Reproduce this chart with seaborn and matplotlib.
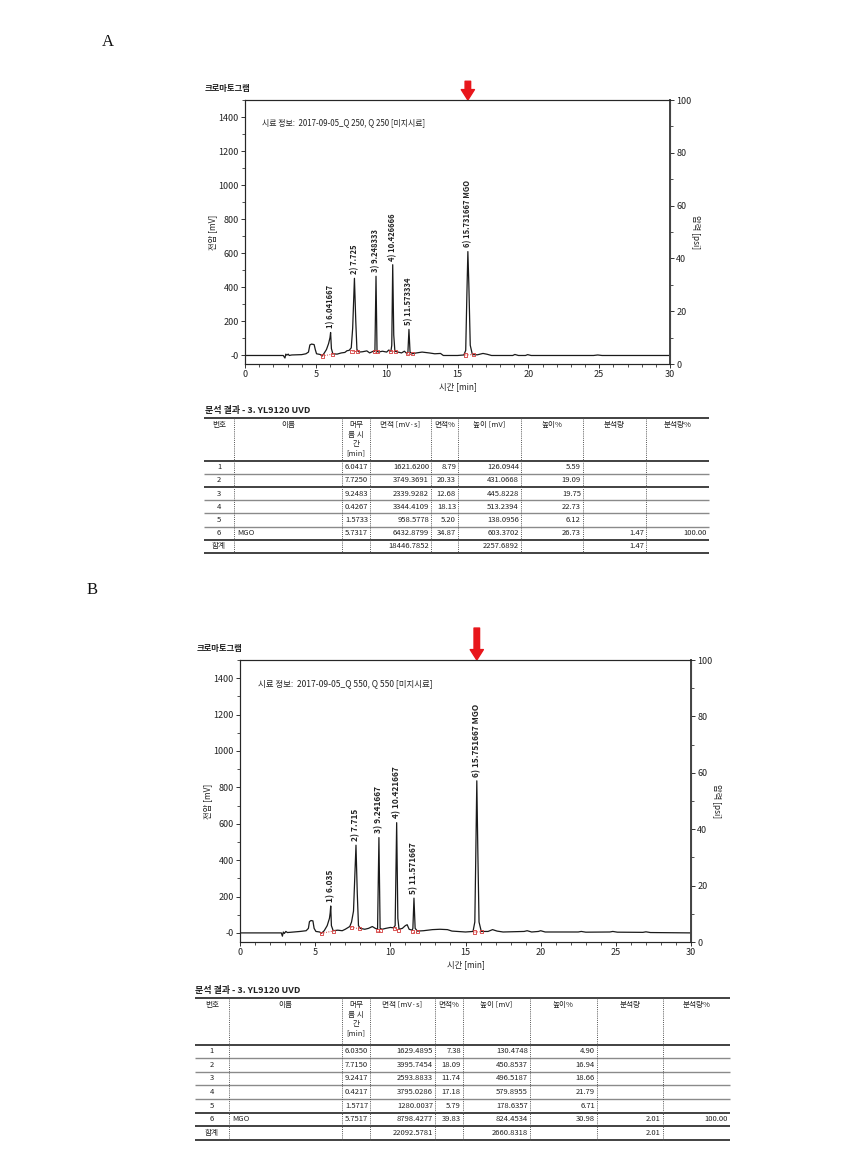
import matplotlib
matplotlib.use("Agg")
import matplotlib.pyplot as plt
from matplotlib.ticker import MultipleLocator, FixedLocator
import numpy as np
import pandas as pd
import seaborn as sns

# ---------------- data ----------------
TIME_TICKS = [0, 5, 10, 15, 20, 25, 30]
MV_TICKS = [0, 200, 400, 600, 800, 1000, 1200, 1400]
MV_TICK_LABELS = ["-0", "200", "400", "600", "800", "1000", "1200", "1400"]
PSI_TICKS = [0, 20, 40, 60, 80, 100]

# chromatogram A (time [min], voltage [mV])
A_trace = [(0, 0), (2.7, 0), (2.82, -15), (2.88, 8), (2.95, 2), (3.05, 8), (3.12, 0), (3.3, 3),
           (4.0, 5), (4.3, 10), (4.48, 20), (4.58, 62), (4.7, 67), (4.88, 64), (4.96, 35), (5.05, 10),
           (5.3, 6), (5.45, -3), (5.6, 15), (5.75, 35), (5.9, 70), (6.0, 105), (6.042, 135), (6.1, 40),
           (6.2, 10), (6.5, 8), (6.8, 15), (7.05, 18), (7.2, 28), (7.35, 30), (7.5, 45), (7.6, 160),
           (7.725, 453), (7.82, 200), (7.9, 35), (8.05, 20), (8.3, 22), (8.6, 27), (8.8, 15), (9.05, 25),
           (9.17, 25), (9.248, 465), (9.32, 25), (9.42, 20), (9.7, 25), (10.0, 20), (10.15, 32), (10.3, 25),
           (10.36, 60), (10.427, 533), (10.5, 120), (10.58, 25), (10.8, 20), (11.05, 15), (11.25, 25),
           (11.42, 12), (11.5, 20), (11.573, 153), (11.65, 20), (11.78, 10), (12.1, 15), (12.5, 20),
           (13.0, 15), (13.4, 10), (13.8, 12), (14.0, 0), (15.0, 0), (15.45, 3), (15.58, 30), (15.66, 350),
           (15.732, 610), (15.8, 420), (15.9, 60), (16.05, 5), (16.4, 4), (16.8, 12), (17.1, 7), (17.4, 0),
           (18.9, 0), (19.05, 6), (19.3, 0), (19.8, 0), (19.95, 5), (20.2, 0), (24.6, 0), (24.9, 3),
           (25.2, 0), (30, 0)]
A_peak_t = [6.041667, 7.725, 9.248333, 10.426666, 11.573334, 15.731667]
A_peak_h = [135, 453, 465, 533, 153, 610]
A_peak_labels = ["1) 6.041667", "2) 7.725", "3) 9.248333", "4) 10.426666", "5) 11.573334", "6) 15.731667 MGO"]
A_int_t = [5.45, 6.2, 7.55, 7.95, 9.15, 9.35, 10.3, 10.6, 11.45, 11.8, 15.55, 16.1]
A_int_v = [-3, 8, 25, 25, 22, 22, 25, 22, 10, 10, 3, 5]

# chromatogram B (time [min], voltage [mV])
B_trace = [(0, 0), (2.75, 0), (2.82, -18), (2.88, 5), (2.95, -3), (3.05, 8), (3.15, 2), (3.3, 3),
           (4.0, 8), (4.4, 12), (4.55, 25), (4.62, 62), (4.72, 68), (4.85, 66), (4.93, 25), (5.05, 8),
           (5.3, 5), (5.42, -2), (5.6, 12), (5.8, 40), (5.95, 80), (6.0, 110), (6.035, 148), (6.08, 40),
           (6.2, 12), (6.5, 15), (6.8, 12), (7.0, 20), (7.2, 30), (7.3, 35), (7.42, 60), (7.55, 120),
           (7.715, 482), (7.8, 220), (7.88, 40), (8.0, 25), (8.3, 20), (8.55, 25), (8.8, 35), (9.0, 25),
           (9.15, 20), (9.241, 524), (9.32, 25), (9.45, 20), (9.7, 25), (10.0, 30), (10.2, 28), (10.32, 40),
           (10.421, 606), (10.5, 80), (10.58, 20), (10.8, 25), (11.0, 40), (11.12, 45), (11.25, 20),
           (11.45, 15), (11.5, 25), (11.572, 191), (11.65, 25), (11.8, 10), (12.2, 12), (12.8, 18),
           (13.3, 20), (13.8, 18), (14.1, 10), (15.0, 5), (15.5, 8), (15.62, 60), (15.68, 400),
           (15.752, 836), (15.82, 450), (15.9, 60), (16.05, 8), (16.5, 8), (16.8, 18), (17.1, 10),
           (17.5, 5), (18.9, 8), (19.1, 12), (19.4, 5), (19.85, 8), (20.0, 12), (20.3, 5), (22.5, 5),
           (22.7, 8), (23.0, 4), (24.6, 5), (24.8, 8), (25.1, 4), (26.8, 3), (27.0, 6), (27.3, 2), (30, 0)]
B_peak_t = [6.035, 7.715, 9.241667, 10.421667, 11.571667, 15.751667]
B_peak_h = [148, 482, 524, 606, 191, 836]
B_peak_labels = ["1) 6.035", "2) 7.715", "3) 9.241667", "4) 10.421667", "5) 11.571667", "6) 15.751667 MGO"]
B_int_t = [5.4, 6.2, 7.4, 7.95, 9.12, 9.32, 10.3, 10.55, 11.48, 11.8, 15.6, 16.05]
B_int_v = [-2, 10, 32, 22, 12, 12, 25, 12, 6, 6, 5, 6]

# result tables
HEADERS = ["번호", "이름", "머무\n름 시\n간\n[min]", "면적 [mV·s]", "면적%", "높이 [mV]", "높이%", "분석량", "분석량%"]
A_no = ["1", "2", "3", "4", "5", "6"]
A_name = ["", "", "", "", "", "MGO"]
A_rt = ["6.0417", "7.7250", "9.2483", "0.4267", "1.5733", "5.7317"]
A_area = ["1621.6200", "3749.3691", "2339.9282", "3344.4109", "958.5778", "6432.8799"]
A_area_pct = ["8.79", "20.33", "12.68", "18.13", "5.20", "34.87"]
A_height = ["126.0944", "431.0668", "445.8228", "513.2394", "138.0956", "603.3702"]
A_height_pct = ["5.59", "19.09", "19.75", "22.73", "6.12", "26.73"]
A_amount = ["", "", "", "", "", "1.47"]
A_amount_pct = ["", "", "", "", "", "100.00"]
A_total = ["합계", "", "", "18446.7852", "", "2257.6892", "", "1.47", ""]

B_no = ["1", "2", "3", "4", "5", "6"]
B_name = ["", "", "", "", "", "MGO"]
B_rt = ["6.0350", "7.7150", "9.2417", "0.4217", "1.5717", "5.7517"]
B_area = ["1629.4895", "3995.7454", "2593.8833", "3795.0286", "1280.0037", "8798.4277"]
B_area_pct = ["7.38", "18.09", "11.74", "17.18", "5.79", "39.83"]
B_height = ["130.4748", "450.8537", "496.5187", "579.8955", "178.6357", "824.4534"]
B_height_pct = ["4.90", "16.94", "18.66", "21.79", "6.71", "30.98"]
B_amount = ["", "", "", "", "", "2.01"]
B_amount_pct = ["", "", "", "", "", "100.00"]
B_total = ["합계", "", "", "22092.5781", "", "2660.8318", "", "2.01", ""]

# ---------------- style ----------------
sns.set_style("ticks")
plt.rcParams["font.family"] = ["Noto Sans CJK KR", "DejaVu Sans"]
plt.rcParams["axes.unicode_minus"] = False

W, H = 844, 1176
fig = plt.figure(figsize=(W / 100, H / 100), dpi=100)

# overlay axes in pixel coordinates for tables / titles
ov = fig.add_axes([0, 0, 1, 1], zorder=5)
ov.set_xlim(0, W)
ov.set_ylim(H, 0)
ov.axis("off")
ov.patch.set_alpha(0)

TXT = "#222222"


def chrom(rect, trace, peak_t, peak_h, peak_labels, int_t, int_v, info, fs_peak, fs_info, arrow_len):
    ax = fig.add_axes(rect)
    df = pd.DataFrame(trace, columns=["time", "mV"])
    sns.lineplot(data=df, x="time", y="mV", ax=ax, color="#1a1a1a", lw=0.9,
                 estimator=None, sort=False)
    # integration baselines / markers
    for i in range(0, len(int_t), 2):
        ax.plot(int_t[i:i + 2], int_v[i:i + 2], ls=(0, (1, 1.5)), color="#d43a3a", lw=0.7)
    ax.scatter(int_t, int_v, marker="s", s=5, facecolors="none", edgecolors="#d43a3a",
               linewidths=0.6, zorder=4)
    for t, h, lab in zip(peak_t, peak_h, peak_labels):
        ax.annotate(lab, xy=(t, h), xytext=(0, 3), textcoords="offset points",
                    rotation=90, ha="center", va="bottom", fontsize=fs_peak,
                    fontweight="bold", color=TXT)
    ax.set_xlim(0, 30)
    ax.set_ylim(-50, 1500)
    ax.xaxis.set_major_locator(FixedLocator(TIME_TICKS))
    ax.xaxis.set_minor_locator(MultipleLocator(1))
    ax.yaxis.set_major_locator(FixedLocator(MV_TICKS))
    ax.set_yticklabels(MV_TICK_LABELS)
    ax.yaxis.set_minor_locator(MultipleLocator(100))
    ax.tick_params(which="major", direction="out", length=3, width=0.7, labelsize=6.5,
                   pad=1.5, colors="#333333", labelcolor=TXT)
    ax.tick_params(which="minor", direction="out", length=2, width=0.6, colors="#333333")
    ax.set_xlabel("시간 [min]", fontsize=6, color=TXT, labelpad=2)
    ax.set_ylabel("전압 [mV]", fontsize=6, color=TXT, labelpad=1)
    for s in ax.spines.values():
        s.set_color("#444444")
        s.set_linewidth(0.8)
        s.set_visible(True)
    ax.text(0.04, 0.915, info, transform=ax.transAxes, fontsize=fs_info, color=TXT, va="center")
    # right pressure axis
    ax2 = ax.twinx()
    ax2.set_ylim(0, 100)
    ax2.yaxis.set_major_locator(FixedLocator(PSI_TICKS))
    ax2.yaxis.set_minor_locator(MultipleLocator(10))
    ax2.tick_params(which="major", direction="out", length=3, width=0.7, labelsize=6.5,
                    pad=1.5, colors="#333333", labelcolor=TXT)
    ax2.tick_params(which="minor", direction="out", length=2, width=0.6, colors="#333333")
    ax2.set_ylabel("압력 [psi]", fontsize=6, rotation=270, color=TXT, labelpad=6)
    ax2.spines["right"].set_linewidth(1.4)
    ax2.spines["right"].set_color("#444444")
    # red arrow above the MGO peak
    ax.annotate("", xy=(peak_t[-1], 1500), xytext=(0, arrow_len), textcoords="offset points",
                arrowprops=dict(arrowstyle="simple,head_length=0.75,head_width=0.95,tail_width=0.4",
                                color="#e8161b", shrinkA=0, shrinkB=0, mutation_scale=10),
                annotation_clip=False)
    return ax


def table(x_edges, y_top, y_head, row_h, cols, total, thick_after, fs):
    n = len(cols[0])
    y_lines = [y_head + row_h * i for i in range(n + 2)]
    y_bot = y_lines[-1]
    # horizontal rules
    ov.hlines(y_top, x_edges[0], x_edges[-1], color="#333333", lw=1.3)
    for i, y in enumerate(y_lines):
        heavy = (i == 0) or (i == len(y_lines) - 1) or (i in thick_after)
        ov.hlines(y, x_edges[0], x_edges[-1], color="#333333" if heavy else "#8a8a8a",
                  lw=1.3 if heavy else 1.0)
    # dotted column separators
    for x in x_edges[1:-1]:
        ov.vlines(x, y_top, y_bot, color="#555555", lw=0.7, linestyles=(0, (1, 1.2)))
    # header
    for j, hname in enumerate(HEADERS):
        xc = (x_edges[j] + x_edges[j + 1]) / 2
        ov.text(xc, y_top + 3, hname, ha="center", va="top", fontsize=fs, color=TXT,
                linespacing=1.25)
    # body rows
    rows = list(zip(*cols)) + [tuple(total)]
    for i, row in enumerate(rows):
        yc = y_head + row_h * (i + 0.5)
        for j, val in enumerate(row):
            if not val:
                continue
            if j == 0:
                ov.text((x_edges[0] + x_edges[1]) / 2, yc, val, ha="center", va="center",
                        fontsize=fs, color=TXT)
            elif j == 1:
                ov.text(x_edges[1] + 3, yc, val, ha="left", va="center", fontsize=fs, color=TXT)
            else:
                ov.text(x_edges[j + 1] - 2, yc, val, ha="right", va="center", fontsize=fs, color=TXT)


# ---------------- panel A ----------------
ov.text(108, 42, "A", fontsize=12, family="Liberation Serif", ha="center", va="center", color="#111")
ov.text(205, 88, "크로마토그램", fontsize=6, fontweight="bold", ha="left", va="center", color=TXT)
chrom([245 / W, 1 - 364 / H, 425 / W, 264 / H], A_trace, A_peak_t, A_peak_h, A_peak_labels,
      A_int_t, A_int_v, "시료 정보:  2017-09-05_Q 250, Q 250 [미지시료]", 5.5, 5.7, 13.5)
ov.text(205, 410, "분석 결과 - 3. YL9120 UVD", fontsize=6.5, fontweight="bold", ha="left",
        va="center", color=TXT)
table([204, 234, 342, 370, 431, 458, 521, 583, 646, 709], 418, 460.5, 13.2,
      [A_no, A_name, A_rt, A_area, A_area_pct, A_height, A_height_pct, A_amount, A_amount_pct],
      A_total, {2, 6}, 5.5)

# ---------------- panel B ----------------
ov.text(92, 590, "B", fontsize=12, family="Liberation Serif", ha="center", va="center", color="#111")
ov.text(197, 648, "크로마토그램", fontsize=6, fontweight="bold", ha="left", va="center", color=TXT)
chrom([240 / W, 1 - 942 / H, 451 / W, 282 / H], B_trace, B_peak_t, B_peak_h, B_peak_labels,
      B_int_t, B_int_v, "시료 정보:  2017-09-05_Q 550, Q 550 [미지시료]", 6, 6.1, 23)
ov.text(195, 990, "분석 결과 - 3. YL9120 UVD", fontsize=6.5, fontweight="bold", ha="left",
        va="center", color=TXT)
table([195, 229, 342, 370, 435, 463, 530, 597, 663, 730], 998, 1044.5, 13.6,
      [B_no, B_name, B_rt, B_area, B_area_pct, B_height, B_height_pct, B_amount, B_amount_pct],
      B_total, {5, 6}, 5.5)

fig.savefig("out.png", dpi=100, facecolor="white")
